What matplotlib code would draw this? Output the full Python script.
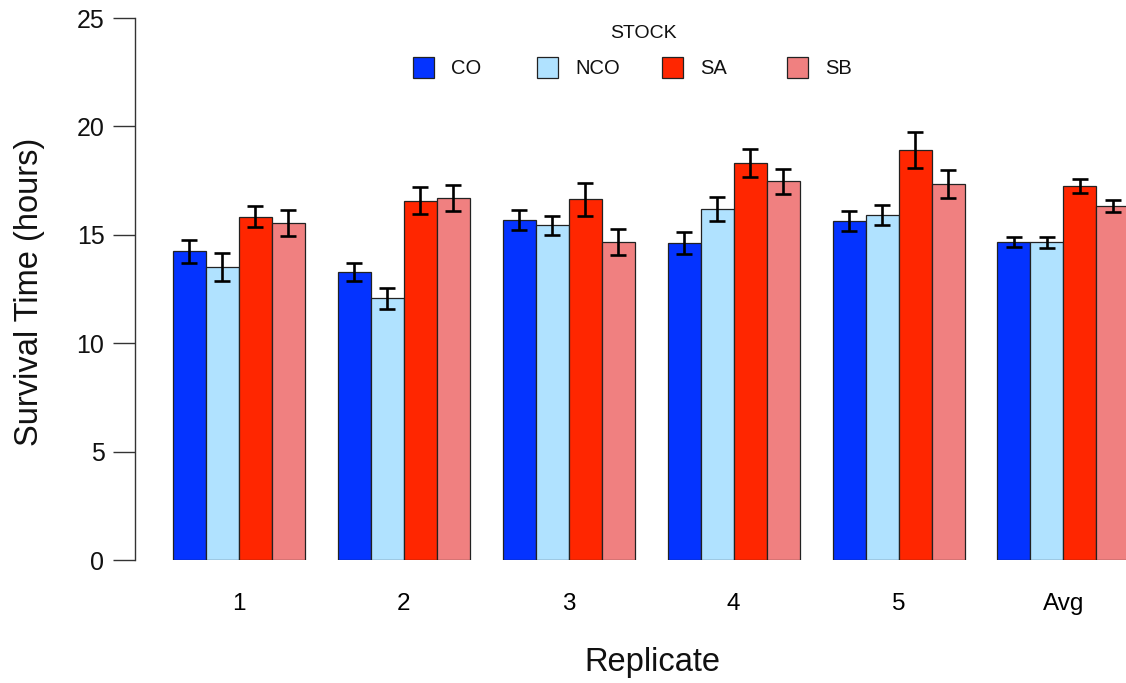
import numpy as np
import matplotlib
matplotlib.use("Agg")
import matplotlib.pyplot as plt
from matplotlib.patches import Rectangle

plt.rcParams["font.family"] = ["Liberation Sans", "DejaVu Sans"]

# ---------- Data ----------
replicates = ["1", "2", "3", "4", "5", "Avg"]
stocks = ["CO", "NCO", "SA", "SB"]

co_mean = [14.24, 13.30, 15.68, 14.62, 15.65, 14.68]
co_se = [0.52, 0.42, 0.45, 0.50, 0.46, 0.23]
nco_mean = [13.51, 12.08, 15.45, 16.18, 15.91, 14.65]
nco_se = [0.64, 0.48, 0.44, 0.56, 0.45, 0.26]
sa_mean = [15.84, 16.57, 16.64, 18.30, 18.93, 17.25]
sa_se = [0.50, 0.62, 0.77, 0.65, 0.83, 0.33]
sb_mean = [15.56, 16.70, 14.67, 17.47, 17.34, 16.33]
sb_se = [0.60, 0.59, 0.62, 0.57, 0.65, 0.28]

# ---------- Style ----------
COLORS = ["#0433FF", "#B0E2FF", "#FF2600", "#F08080"]
EDGE = "#222222"
W_PX, H_PX = 1126, 683

fig = plt.figure(figsize=(W_PX / 100, H_PX / 100), dpi=100)

# axes placed in pixel terms: left spine at x=135, y=0 at 560, y=25 at 18
ax = fig.add_axes([135 / W_PX, (H_PX - 560) / H_PX, 1 - 135 / W_PX, (560 - 18) / H_PX])

means = [co_mean, nco_mean, sa_mean, sb_mean]
ses = [co_se, nco_se, sa_se, sb_se]

n_grp = len(replicates)
grp_start = np.arange(n_grp) * 5 + 1   # R barplot(beside=TRUE) spacing
for j, (m, s) in enumerate(zip(means, ses)):
    xc = grp_start + j + 0.5
    ax.bar(xc, m, width=1.0, color=COLORS[j], edgecolor=EDGE, linewidth=0.9)
    ax.errorbar(xc, m, yerr=s, fmt="none", ecolor="black",
                elinewidth=1.9, capsize=6, capthick=1.9)

unit_px = 32.98
ax.set_xlim(-5 / unit_px, (W_PX - 140) / unit_px)
ax.set_ylim(0, 25)

ax.set_xticks(grp_start + 2)
ax.set_xticklabels(replicates, fontsize=17.5)
ax.tick_params(axis="x", length=0, pad=24)
ax.set_yticks([0, 5, 10, 15, 20, 25])
ax.tick_params(axis="y", length=16, width=1.0, pad=6, labelsize=18, colors="#333333",
               labelcolor="#111111")

for sp in ["top", "right", "bottom"]:
    ax.spines[sp].set_visible(False)
ax.spines["left"].set_color("#333333")
ax.spines["left"].set_linewidth(1.0)

# axis titles
fig.text(652 / W_PX, (H_PX - 671) / H_PX, "Replicate", ha="center", va="baseline",
         fontsize=23.5, color="#111111")
fig.text(30 / W_PX, (H_PX - 292) / H_PX, "Survival Time (hours)", ha="center",
         va="center", rotation=90, fontsize=23.5, color="#111111")

# ---------- Legend (manual, R-style) ----------
fig.text(643 / W_PX, (H_PX - 34) / H_PX, "STOCK", ha="center", va="center",
         fontsize=14, color="#111111")
box_x = [413, 537, 662, 787]
for name, c, bx in zip(stocks, COLORS, box_x):
    fig.add_artist(Rectangle((bx / W_PX, (H_PX - 78) / H_PX), 21 / W_PX, 21 / H_PX,
                             transform=fig.transFigure, facecolor=c,
                             edgecolor=EDGE, linewidth=0.9))
    fig.text((bx + 38) / W_PX, (H_PX - 69) / H_PX, name, ha="left", va="center",
             fontsize=14.5, color="#111111")

fig.savefig("out.png", dpi=100)
